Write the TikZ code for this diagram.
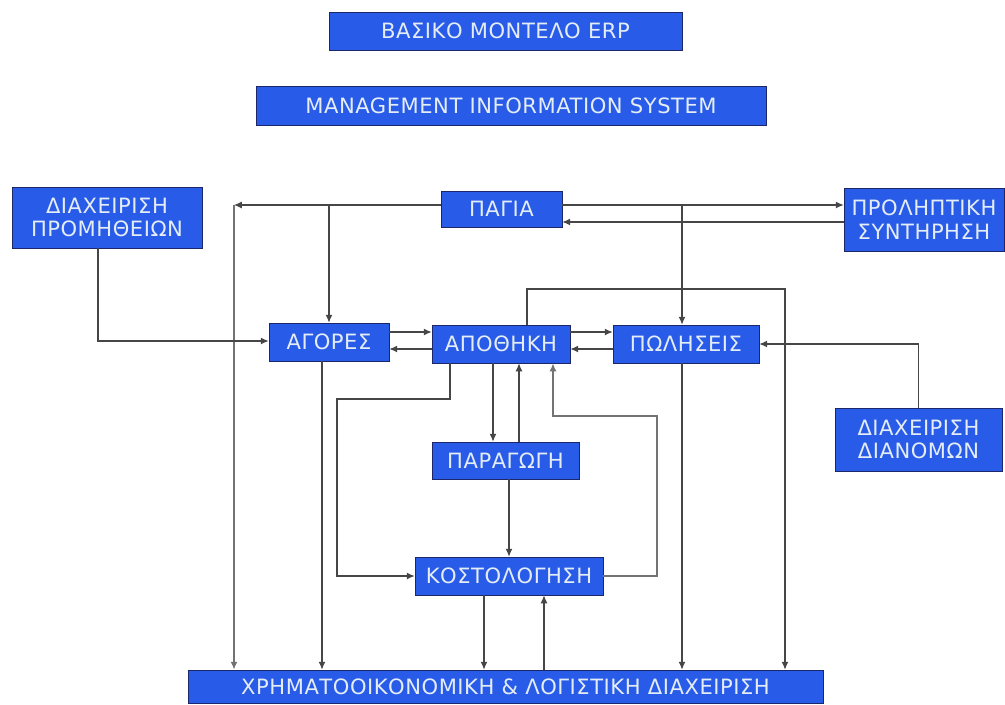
\documentclass[tikz,border=0pt]{standalone}
\usepackage{fontspec}
\setmainfont{DejaVu Sans}[LetterSpace=2.5]
\usepackage{xcolor}
\usetikzlibrary{arrows.meta}
\definecolor{MpleKouti}{RGB}{40,92,232}
\definecolor{PerigrammaKouti}{RGB}{28,38,105}
\definecolor{KeimenoKouti}{RGB}{228,236,246}
\definecolor{GrammiRois}{RGB}{70,70,70}

\begin{document}
\begin{tikzpicture}[x=0.02cm,y=-0.02cm,>={Latex[length=4.5pt,width=4pt]},
  kouti/.style={draw=PerigrammaKouti,fill=MpleKouti,text=KeimenoKouti,
    inner sep=0pt,align=center,font=\fontsize{12}{13.6}\selectfont},
  roi/.style={->,GrammiRois,line width=0.6pt},
  roipaxia/.style={roi,gray!90!black,line width=1.1pt}]
  \useasboundingbox (0,0) rectangle (1005,704);
  % titloi
  \node[kouti,minimum width=7.06cm,minimum height=0.76cm] (erp) at (505.5,31) {ΒΑΣΙΚΟ ΜΟΝΤΕΛΟ ERP};
  \node[kouti,minimum width=10.2cm,minimum height=0.78cm] (mis) at (511,105.5) {MANAGEMENT INFORMATION SYSTEM};
  % kouti
  \node[kouti,minimum width=3.8cm,minimum height=1.22cm] (promi) at (107,217.5) {ΔΙΑΧΕΙΡΙΣΗ\\ΠΡΟΜΗΘΕΙΩΝ};
  \node[kouti,minimum width=2.42cm,minimum height=0.72cm] (pagia) at (501.5,209) {ΠΑΓΙΑ};
  \node[kouti,minimum width=3.2cm,minimum height=1.26cm] (prol) at (924,219.5) {ΠΡΟΛΗΠΤΙΚΗ\\ΣΥΝΤΗΡΗΣΗ};
  \node[kouti,minimum width=2.4cm,minimum height=0.76cm] (agores) at (329,342) {ΑΓΟΡΕΣ};
  \node[kouti,minimum width=2.76cm,minimum height=0.76cm] (apoth) at (501,344) {ΑΠΟΘΗΚΗ};
  \node[kouti,minimum width=2.92cm,minimum height=0.76cm] (pol) at (686,344) {ΠΩΛΗΣΕΙΣ};
  \node[kouti,minimum width=3.34cm,minimum height=1.26cm] (dian) at (918.5,439.5) {ΔΙΑΧΕΙΡΙΣΗ\\ΔΙΑΝΟΜΩΝ};
  \node[kouti,minimum width=2.94cm,minimum height=0.74cm] (parag) at (505.5,460.5) {ΠΑΡΑΓΩΓΗ};
  \node[kouti,minimum width=3.76cm,minimum height=0.76cm] (kost) at (509,576) {ΚΟΣΤΟΛΟΓΗΣΗ};
  \node[kouti,minimum width=12.7cm,minimum height=0.66cm] (xrim) at (505.5,686.5) {ΧΡΗΜΑΤΟΟΙΚΟΝΟΜΙΚΗ \& ΛΟΓΙΣΤΙΚΗ ΔΙΑΧΕΙΡΙΣΗ};
  % simeia kampis
  \coordinate (ga) at (234,205);
  \coordinate (gb) at (844,222);
  \coordinate (pm) at (98,341);
  \coordinate (ag) at (322,0);
  \coordinate (pv) at (682,0);
  \coordinate (la) at (527,289);
  \coordinate (lb) at (785,289);
  \coordinate (a1) at (450,399);
  \coordinate (a2) at (337,576);
  \coordinate (d1) at (493,0);
  \coordinate (d2) at (519,0);
  \coordinate (k1) at (657,416);
  \coordinate (k2) at (553,416);
  \coordinate (x1) at (484,0);
  \coordinate (x2) at (544,0);
  % grammes apo ta pagia
  \draw[roi] (pagia.west |- ga) -- (ga);
  \draw[roipaxia] (ga) -- (ga |- xrim.north);
  \draw[roi] (ga -| agores.north) -- (agores.north);
  \draw[roi] (pagia.east |- ga) -- (prol.west |- ga);
  \draw[roi] (gb) -- (pagia.east |- gb);
  \draw[roi] (ga -| pv) -- (pol.north -| pv);
  % mesaia seira
  \draw[roi] (promi.south -| pm) -- (pm) -- (agores.west |- pm);
  \draw[roi] (agores.east |- 0,332) -- (apoth.west |- 0,332);
  \draw[roi] (apoth.west |- 0,349) -- (agores.east |- 0,349);
  \draw[roi] (apoth.east |- 0,332) -- (pol.west |- 0,332);
  \draw[roi] (pol.west |- 0,349) -- (apoth.east |- 0,349);
  \draw[roi] (dian.north) |- (pol.east);
  \draw[roi] (apoth.north -| la) -- (la) -- (lb) -- (lb |- xrim.north);
  % paragogi kai kostologisi
  \draw[roi] (apoth.south -| a1) -- (a1) -| (a2) -- (kost.west);
  \draw[roi] (apoth.south -| d1) -- (parag.north -| d1);
  \draw[roi] (parag.north -| d2) -- (apoth.south -| d2);
  \draw[roi] (parag.south -| kost.north) -- (kost.north);
  \draw[roipaxia] (kost.east) -| (k1) -- (k2) -- (apoth.south -| k2);
  % pros ti xrimatooikonomiki
  \draw[roi] (agores.south -| ag) -- (xrim.north -| ag);
  \draw[roi] (pol.south -| pv) -- (xrim.north -| pv);
  \draw[roi] (kost.south -| x1) -- (xrim.north -| x1);
  \draw[roi] (xrim.north -| x2) -- (kost.south -| x2);
\end{tikzpicture}
\end{document}
